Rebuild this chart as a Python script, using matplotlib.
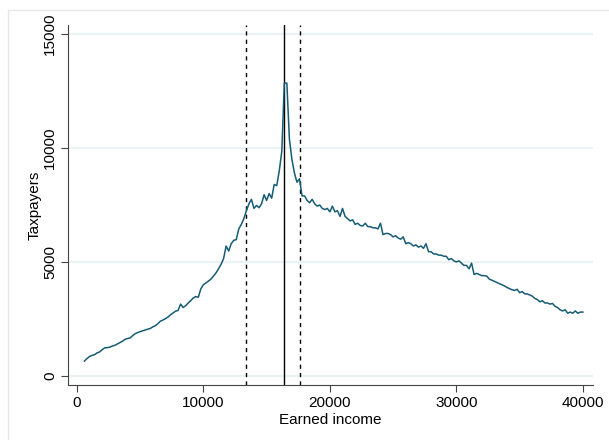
import matplotlib
matplotlib.use('Agg')
import matplotlib.pyplot as plt
from matplotlib.patches import Rectangle
import numpy as np

# income bins (lower edge, 200 wide) and number of taxpayers in each
income = list(range(600, 40001, 200))
taxpayers = [650, 760,
             850, 900, 930, 1010, 1050,
             1150, 1230, 1240, 1260, 1310,
             1340, 1400, 1460, 1520, 1600,
             1640, 1660, 1760, 1850, 1900,
             1940, 1980, 2010, 2050, 2080,
             2150, 2200, 2290, 2400, 2450,
             2510, 2580, 2680, 2760, 2840,
             2870, 3150, 3000, 3080, 3200,
             3300, 3420, 3480, 3450, 3820,
             4000, 4080, 4160, 4250, 4380,
             4520, 4700, 4900, 5150, 5700,
             5480, 5800, 5950, 5980, 6450,
             6650, 6900, 7250, 7550, 7750,
             7350, 7480, 7380, 7550, 7950,
             7700, 8000, 7800, 8400, 8350,
             9000, 9850, 12850, 12850, 10400,
             9500, 8900, 8500, 8650, 7900,
             7900, 7700, 7600, 7750, 7550,
             7450, 7500, 7350, 7300, 7350,
             7200, 7450, 7200, 7250, 7000,
             7350, 7000, 6900, 6800, 6850,
             6650, 6700, 6600, 6580, 6700,
             6550, 6550, 6500, 6500, 6450,
             6700, 6200, 6250, 6250, 6200,
             6100, 6150, 6050, 6000, 6100,
             5800, 5850, 5800, 5700, 5750,
             5650, 5700, 5600, 5800, 5450,
             5450, 5350, 5350, 5300, 5300,
             5250, 5250, 5100, 5150, 5050,
             5000, 5050, 4950, 4850, 4850,
             4700, 4950, 4450, 4500, 4450,
             4400, 4400, 4380, 4250, 4200,
             4150, 4100, 4050, 4000, 3950,
             3880, 3830, 3780, 3750, 3800,
             3650, 3700, 3600, 3600, 3550,
             3500, 3400, 3350, 3250, 3300,
             3200, 3200, 3150, 3180, 3050,
             3000, 2900, 2850, 2900, 2750,
             2800, 2750, 2850, 2750, 2800,
             2800]

kink = 16400
band = [13400, 17600]

x_ticks = [0, 10000, 20000, 30000, 40000]
y_ticks = [0, 5000, 10000, 15000]

plt.rcParams['font.family'] = ['Liberation Sans', 'DejaVu Sans']

fig = plt.figure(figsize=(6.09, 4.4), dpi=100)
# faint outer region border (runs off the right and bottom edges)
fig.patches.append(Rectangle((8 / 609, -10 / 440), 620 / 609, 440 / 440,
                             transform=fig.transFigure, fill=False,
                             edgecolor='#e6e6e6', linewidth=1.0))
ax = fig.add_axes([68 / 609, 55 / 440, 525 / 609, 360 / 440])

for y in y_ticks:
    ax.axhline(y, color='#eaf2f3', linewidth=1.6, zorder=0)

ax.plot(income, taxpayers, color='#165c74', linewidth=1.1, zorder=3)
ax.axvline(kink, color='black', linewidth=1.0, zorder=2)
for b in band:
    ax.axvline(b, color='black', linewidth=1.0, linestyle=(0, (3, 3)), zorder=2)

ax.set_xlim(-700, 40800)
ax.set_ylim(-400, 15400)
ax.set_xticks(x_ticks)
ax.set_yticks(y_ticks)
ax.set_yticklabels([str(v) for v in y_ticks], rotation=90, va='center')
ax.tick_params(labelsize=11, length=5, width=0.8, color='#444444', pad=3)
ax.set_xlabel('Earned income', fontsize=11, labelpad=2)
ax.set_ylabel('Taxpayers', fontsize=11, labelpad=1)

for side in ['top', 'right']:
    ax.spines[side].set_visible(False)
for side in ['left', 'bottom']:
    ax.spines[side].set_color('#444444')
    ax.spines[side].set_linewidth(0.8)

fig.savefig('out.png', dpi=100)
